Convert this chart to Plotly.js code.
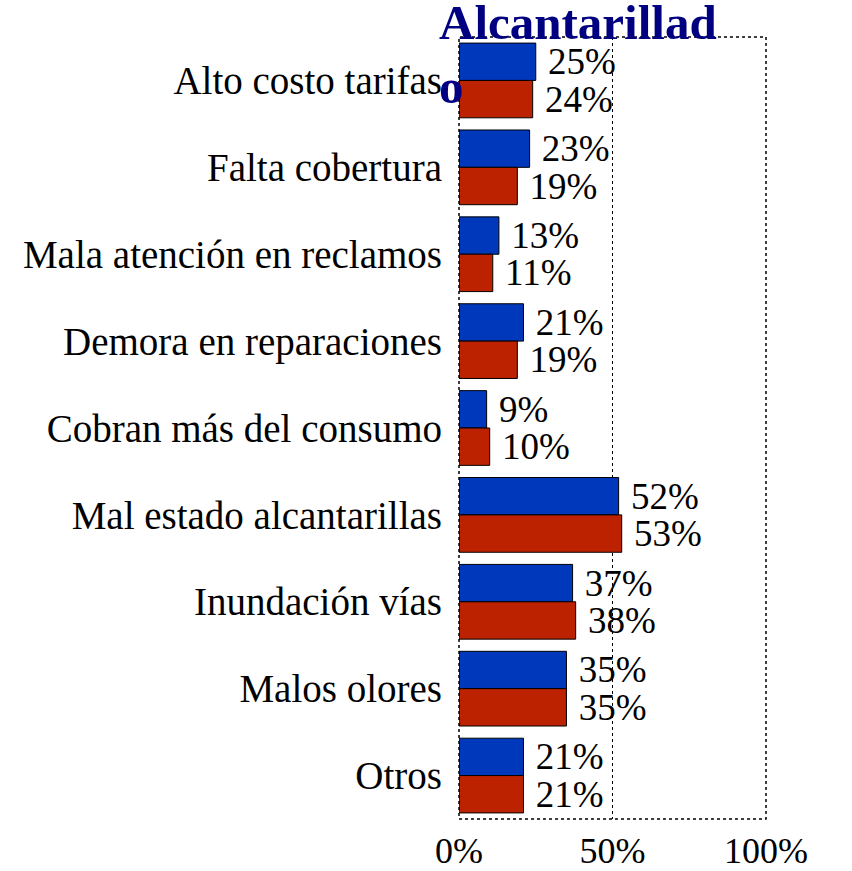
<!DOCTYPE html>
<html><head><meta charset="utf-8">
<script src="https://cdn.plot.ly/plotly-3.0.1.min.js"></script>
<style>body{margin:0;padding:0;background:#fff}#chart{width:852px;height:871px}</style>
</head><body><div id="chart"></div>
<script>
const categories = ["Alto costo tarifas","Falta cobertura","Mala atención en reclamos","Demora en reparaciones","Cobran más del consumo","Mal estado alcantarillas","Inundación vías","Malos olores","Otros"];
const seriesBlue = [25,23,13,21,9,52,37,35,21];
const seriesRed = [24,19,11,19,10,53,38,35,21];
const tickVals = [0,50,100];
const tickText = ["0%","50%","100%"];
const titleText = "Alcantarillad<br>o";

const font = "'Liberation Serif', 'Times New Roman', serif";
const common = {type:'bar', orientation:'h', y:categories, texttemplate:' %{x}%', textposition:'outside',
  cliponaxis:false, constraintext:'none', textfont:{family:font,size:37,color:'#000'}, hoverinfo:'skip'};
const data = [
  Object.assign({}, common, {x:seriesBlue, marker:{color:'#0038BC', line:{color:'#000',width:1}}}),
  Object.assign({}, common, {x:seriesRed, marker:{color:'#BC2200', line:{color:'#000',width:1}}})
];
const layout = {
  width:852, height:871, showlegend:false, barmode:'group', bargap:0.14, bargroupgap:0,
  paper_bgcolor:'#fff', plot_bgcolor:'#fff',
  margin:{l:459, r:86, t:37, b:52},
  font:{family:font, color:'#000'},
  annotations:[{text:titleText, xref:'paper', yref:'paper', x:(437-459)/307, y:1+44/782, xanchor:'left', yanchor:'top',
    align:'left', showarrow:false, font:{family:font, size:49, color:'#000080', weight:'bold'}}],
  xaxis:{range:[0,100], tickvals:tickVals, ticktext:tickText, showgrid:true, griddash:'dot', gridcolor:'#000', gridwidth:1,
    zeroline:false, showline:false, ticks:'', ticklabelstandoff:7, tickfont:{family:font,size:36,color:'#000'}, fixedrange:true},
  yaxis:{autorange:'reversed', showgrid:false, zeroline:false, showline:false, ticks:'', ticklabelstandoff:16,
    tickfont:{family:font,size:39,color:'#000'}},
  shapes:[{type:'rect', xref:'paper', yref:'paper', x0:0, x1:1, y0:0, y1:1, line:{color:'#000', width:1.5, dash:'dot'}, layer:'above'}]
};
Plotly.newPlot('chart', data, layout, {staticPlot:true});
</script></body></html>
